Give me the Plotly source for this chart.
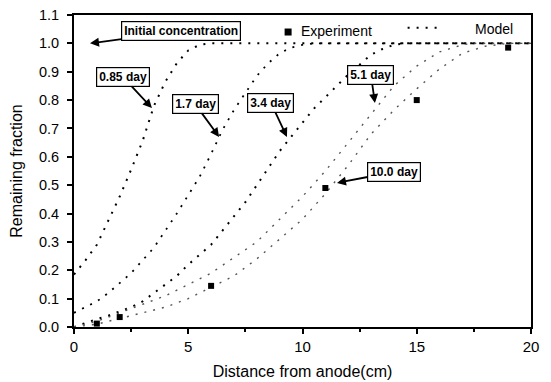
import plotly.graph_objects as go

# ---- data ----
x_085 = [0, 0.5, 1, 1.5, 2, 2.5, 3, 3.5, 4, 4.5, 5, 5.5, 6, 20]
y_085 = [0.185, 0.235, 0.29, 0.375, 0.46, 0.555, 0.655, 0.78, 0.865, 0.93, 0.975, 0.995, 1.0, 1.0]

x_17 = [0, 0.5, 1, 1.5, 2, 2.5, 3, 3.5, 4, 4.5, 5, 5.5, 6, 6.5, 7, 7.5, 8, 8.5, 9, 9.5, 10, 10.5, 20]
y_17 = [0.05, 0.07, 0.09, 0.12, 0.155, 0.19, 0.235, 0.28, 0.34, 0.40, 0.465, 0.53, 0.61, 0.695,
        0.765, 0.825, 0.885, 0.93, 0.965, 0.985, 0.995, 1.0, 1.0]

x_34 = [0, 0.5, 1, 1.5, 2, 2.5, 3, 3.5, 4, 4.5, 5, 5.5, 6, 6.5, 7, 7.5, 8, 8.5, 9, 9.5,
        10, 10.5, 11, 11.5, 12, 12.5, 13, 13.5, 14, 14.5, 20]
y_34 = [0.0, 0.015, 0.028, 0.04, 0.055, 0.07, 0.09, 0.12, 0.15, 0.18, 0.22, 0.255, 0.29, 0.34,
        0.39, 0.44, 0.50, 0.56, 0.62, 0.67, 0.72, 0.77, 0.81, 0.85, 0.89, 0.925, 0.96, 0.98,
        0.995, 1.0, 1.0]

x_51 = [0, 1, 2, 3, 4, 5, 6, 7, 8, 9, 10, 11, 12, 13, 14, 15, 16, 17, 17.5, 20]
y_51 = [0.0, 0.02, 0.05, 0.08, 0.11, 0.15, 0.19, 0.245, 0.30, 0.38, 0.46, 0.55, 0.65, 0.75,
        0.85, 0.92, 0.97, 0.995, 1.0, 1.0]

x_100 = [0, 1, 2, 3, 4, 5, 6, 7, 8, 9, 10, 11, 12, 13, 14, 15, 16, 17, 18, 19, 20]
y_100 = [0.0, 0.01, 0.03, 0.05, 0.07, 0.10, 0.14, 0.18, 0.24, 0.31, 0.38, 0.47, 0.57, 0.68,
         0.765, 0.84, 0.91, 0.965, 0.99, 1.0, 1.0]

exp_x = [1, 2, 6, 11, 15, 19]
exp_y = [0.012, 0.035, 0.145, 0.49, 0.80, 0.985]

x_ticks = [0, 5, 10, 15, 20]
y_ticks = [0.0, 0.1, 0.2, 0.3, 0.4, 0.5, 0.6, 0.7, 0.8, 0.9, 1.0, 1.1]

# label: (text, tip_x, tip_y, ax, ay)
labels = [
    ("0.85 day", 3.41, 0.772, -29, -31),
    ("1.7 day", 6.35, 0.670, -24, -33),
    ("3.4 day", 9.32, 0.670, -16, -34),
    ("5.1 day", 13.17, 0.790, -4, -28),
    ("10.0 day", 11.51, 0.508, 57, -11),
    ("Initial concentration", 0.70, 1.0, 91, -12),
]

FONT = "Liberation Sans, Arial, sans-serif"

fig = go.Figure()

curves = [(x_085, y_085, "black", 2), (x_17, y_17, "black", 1.8), (x_34, y_34, "black", 2),
          (x_51, y_51, "#555555", 1.4), (x_100, y_100, "#555555", 1.4)]
for cx, cy, col, w in curves:
    fig.add_trace(go.Scatter(x=cx, y=cy, mode="lines", showlegend=False,
                             line=dict(color=col, width=w, dash="2px,7px")))

fig.add_trace(go.Scatter(x=exp_x, y=exp_y, mode="markers", showlegend=False,
                         marker=dict(symbol="square", size=6, color="black")))

for text, tx, ty, ax, ay in labels:
    fig.add_annotation(x=tx, y=ty, text="<b>" + text + "</b>", showarrow=True,
                       ax=ax, ay=ay, arrowhead=2, arrowsize=1, arrowwidth=1.8,
                       arrowcolor="black", bordercolor="black", borderwidth=1.2,
                       borderpad=2, bgcolor="white",
                       font=dict(family=FONT, size=12, color="black"))

# manual legend
fig.add_shape(type="rect", xref="x", yref="y", xsizemode="pixel", ysizemode="pixel",
              xanchor=9.37, yanchor=1.04, x0=-3.5, x1=3.5, y0=-3.5, y1=3.5,
              fillcolor="black", line=dict(width=0))
fig.add_annotation(x=9.85, y=1.045, xref="x", yref="y", text="Experiment", showarrow=False,
                   xanchor="left", font=dict(family=FONT, size=14, color="black"))
fig.add_shape(type="line", xref="x", yref="y", x0=14.6, x1=16.1, y0=1.055, y1=1.055,
              line=dict(color="black", width=1.8, dash="2px,7px"))
fig.add_annotation(x=17.45, y=1.05, xref="x", yref="y", text="Model", showarrow=False,
                   xanchor="left", font=dict(family=FONT, size=14, color="black"))

fig.update_xaxes(range=[0, 20], tickvals=x_ticks, ticktext=[str(v) for v in x_ticks],
                 showgrid=False, zeroline=False, showline=True, linecolor="black",
                 linewidth=2, mirror=True, ticks="outside", ticklen=5, tickwidth=1.5,
                 tickcolor="black", automargin=False, ticklabeloverflow="allow",
                 minor=dict(dtick=2.5, ticks="outside", ticklen=3, tickcolor="black"),
                 tickfont=dict(family=FONT, size=15, color="black"),
                 title=dict(text="Distance from anode(cm)", standoff=12,
                            font=dict(family=FONT, size=16, color="black")))
fig.update_yaxes(range=[0, 1.1], tickvals=y_ticks, ticktext=[f"{v:.1f}" for v in y_ticks],
                 showgrid=False, zeroline=False, showline=True, linecolor="black",
                 linewidth=2, mirror=True, ticks="outside", ticklen=5, tickwidth=1.5,
                 tickcolor="black", automargin=False, ticklabelstandoff=5,
                 ticklabeloverflow="allow",
                 tickfont=dict(family=FONT, size=14.5, color="black"),
                 title=dict(text="Remaining fraction", standoff=21,
                            font=dict(family=FONT, size=16, color="black")))

# page body adds an 8px offset; compensate so plot area lands where the reference has it
fig.update_layout(width=543, height=374, margin=dict(l=66, r=20, t=7, b=55),
                  plot_bgcolor="white", paper_bgcolor="white",
                  font=dict(family=FONT, color="black"))

fig.write_html("out.html")
